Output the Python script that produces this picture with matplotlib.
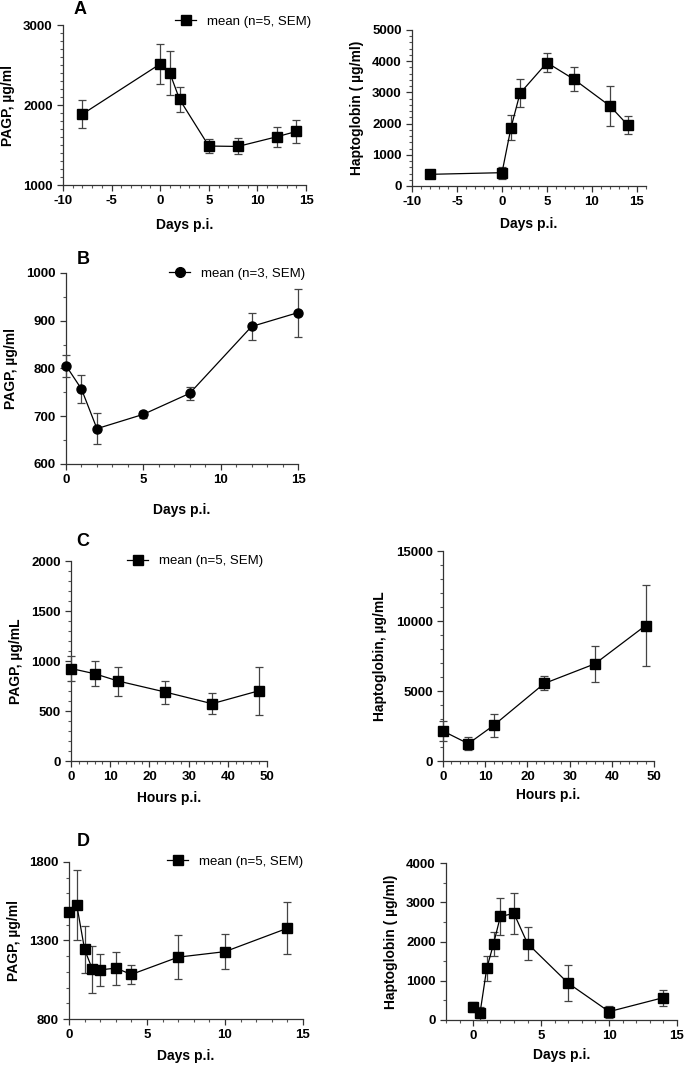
import matplotlib
matplotlib.use('Agg')
import matplotlib.pyplot as plt
from matplotlib.lines import Line2D
from matplotlib.ticker import MultipleLocator

plt.rcParams['font.family'] = ['Liberation Sans', 'DejaVu Sans']
plt.rcParams['font.size'] = 9
plt.rcParams['axes.unicode_minus'] = False

# A: PAGP / haptoglobin, days p.i.
a_days = [-8, 0, 1, 2, 5, 8, 12, 14]
a_pagp = [1886, 2513, 2397, 2069, 1487, 1482, 1603, 1669]
a_pagp_sem = [175, 250, 275, 160, 85, 100, 125, 145]
a_hp = [374, 427, 1870, 2970, 3953, 3419, 2564, 1944]
a_hp_sem = [130, 190, 400, 450, 300, 390, 650, 290]

# B: PAGP, days p.i.
b_days = [0, 1, 2, 5, 8, 12, 15]
b_pagp = [806, 757, 674, 704, 748, 888, 917]
b_pagp_sem = [23, 30, 32, 7, 14, 28, 50]

# C: PAGP / haptoglobin, hours p.i.
c_hours = [0, 6, 12, 24, 36, 48]
c_pagp = [925, 873, 800, 690, 573, 703]
c_pagp_sem = [125, 124, 145, 115, 104, 240]
c_hp = [2139, 1236, 2543, 5538, 6941, 9674]
c_hp_sem = [700, 480, 800, 500, 1300, 2900]

# D: PAGP / haptoglobin, days p.i.
d_days = [0, 0.5, 1, 1.5, 2, 3, 4, 7, 10, 14]
d_pagp = [1484, 1525, 1243, 1116, 1113, 1124, 1084, 1194, 1229, 1378]
d_pagp_sem = [0, 222, 150, 148, 103, 105, 60, 139, 113, 166]
d_hp = [332, 170, 1319, 1940, 2638, 2715, 1949, 936, 213, 570]
d_hp_sem = [136, 170, 315, 307, 468, 528, 417, 460, 153, 204]

W, H = 688, 1065
fig = plt.figure(figsize=(W / 100, H / 100), dpi=100)


def add_ax(x0, x1, y0, y1):
    # pixel box -> figure fraction
    return fig.add_axes([x0 / W, 1 - y1 / H, (x1 - x0) / W, (y1 - y0) / H])


def panel(ax, x, y, err, marker, xlim, ylim, xmaj, xmin, yticks, ymin,
          xlabel, ylabel, xpad, legend=None, leg_anchor=None):
    ax.errorbar(x, y, yerr=err, fmt='-', marker=marker, color='black',
                ecolor='#444444', elinewidth=0.9, capsize=3, capthick=0.9,
                lw=0.9, ms=6.5, clip_on=False, zorder=3)
    ax.set_xlim(*xlim)
    ax.set_ylim(*ylim)
    ax.xaxis.set_major_locator(MultipleLocator(xmaj))
    ax.xaxis.set_minor_locator(MultipleLocator(xmin))
    ax.set_yticks(yticks)
    ax.yaxis.set_minor_locator(MultipleLocator(ymin))
    for s in ['top', 'right']:
        ax.spines[s].set_visible(False)
    for s in ['left', 'bottom']:
        ax.spines[s].set_linewidth(0.9)
        ax.spines[s].set_color('#333333')
    ax.tick_params(which='major', length=4, width=0.9, direction='out',
                   colors='#333333', labelcolor='black')
    ax.tick_params(which='minor', length=2.5, width=0.8, direction='out',
                   colors='#555555')
    for lab in ax.get_xticklabels() + ax.get_yticklabels():
        lab.set_fontweight('bold')
        lab.set_fontsize(9.5)
    ax.set_xlabel(xlabel, fontweight='bold', fontsize=10, labelpad=xpad)
    ax.set_ylabel(ylabel, fontweight='bold', fontsize=10, labelpad=6)
    if legend:
        h = Line2D([], [], color='black', lw=0.9, marker=marker, ms=7)
        ax.legend([h], [legend], loc='upper right', bbox_to_anchor=leg_anchor,
                  frameon=False, fontsize=9.5, handlelength=1.6,
                  handletextpad=0.8, borderpad=0, borderaxespad=0)


# A left
ax = add_ax(63, 306, 25, 185)
panel(ax, a_days, a_pagp, a_pagp_sem, 's', (-10, 15), (1000, 3000), 5, 1,
      [1000, 2000, 3000], 100, 'Days p.i.', 'PAGP, µg/ml', 7.5,
      'mean (n=5, SEM)', (1.02, 1.06))
# A right
ax = add_ax(412, 646, 30, 186)
panel(ax, a_days, a_hp, a_hp_sem, 's', (-10, 16), (0, 5000), 5, 1,
      [0, 1000, 2000, 3000, 4000, 5000], 200, 'Days p.i.',
      'Haptoglobin ( µg/ml)', 6)
# B
ax = add_ax(66, 298, 273, 464)
panel(ax, b_days, b_pagp, b_pagp_sem, 'o', (0, 15), (600, 1000), 5, 1,
      [600, 700, 800, 900, 1000], 50, 'Days p.i.', 'PAGP, µg/ml', 12,
      'mean (n=3, SEM)', (1.03, 1.03))
# C left
ax = add_ax(71, 267, 561, 761)
panel(ax, c_hours, c_pagp, c_pagp_sem, 's', (0, 50), (0, 2000), 10, 2,
      [0, 500, 1000, 1500, 2000], 100, 'Hours p.i.', 'PAGP, µg/mL', 5.5,
      'mean (n=5, SEM)', (0.98, 1.03))
# C right
ax = add_ax(443, 654, 551, 761)
panel(ax, c_hours, c_hp, c_hp_sem, 's', (0, 50), (0, 15000), 10, 2,
      [0, 5000, 10000, 15000], 1000, 'Hours p.i.', 'Haptoglobin, µg/mL', 3)
# D left
ax = add_ax(69, 303, 862, 1019)
panel(ax, d_days, d_pagp, d_pagp_sem, 's', (0, 15), (800, 1800), 5, 1,
      [800, 1300, 1800], 100, 'Days p.i.', 'PAGP, µg/ml', 5.5,
      'mean (n=5, SEM)', (1.0, 1.04))
# D right
ax = add_ax(446, 677, 863, 1020)
panel(ax, d_days, d_hp, d_hp_sem, 's', (-2, 15), (0, 4000), 5, 1,
      [0, 1000, 2000, 3000, 4000], 500, 'Days p.i.', 'Haptoglobin ( µg/ml)', 4)

for letter, (px, py) in zip('ABCD', [(80, 10), (83, 260), (83, 542), (83, 842)]):
    fig.text(px / W, 1 - py / H, letter, fontsize=13, fontweight='bold',
             ha='center', va='center')

fig.savefig('out.png', dpi=100)
